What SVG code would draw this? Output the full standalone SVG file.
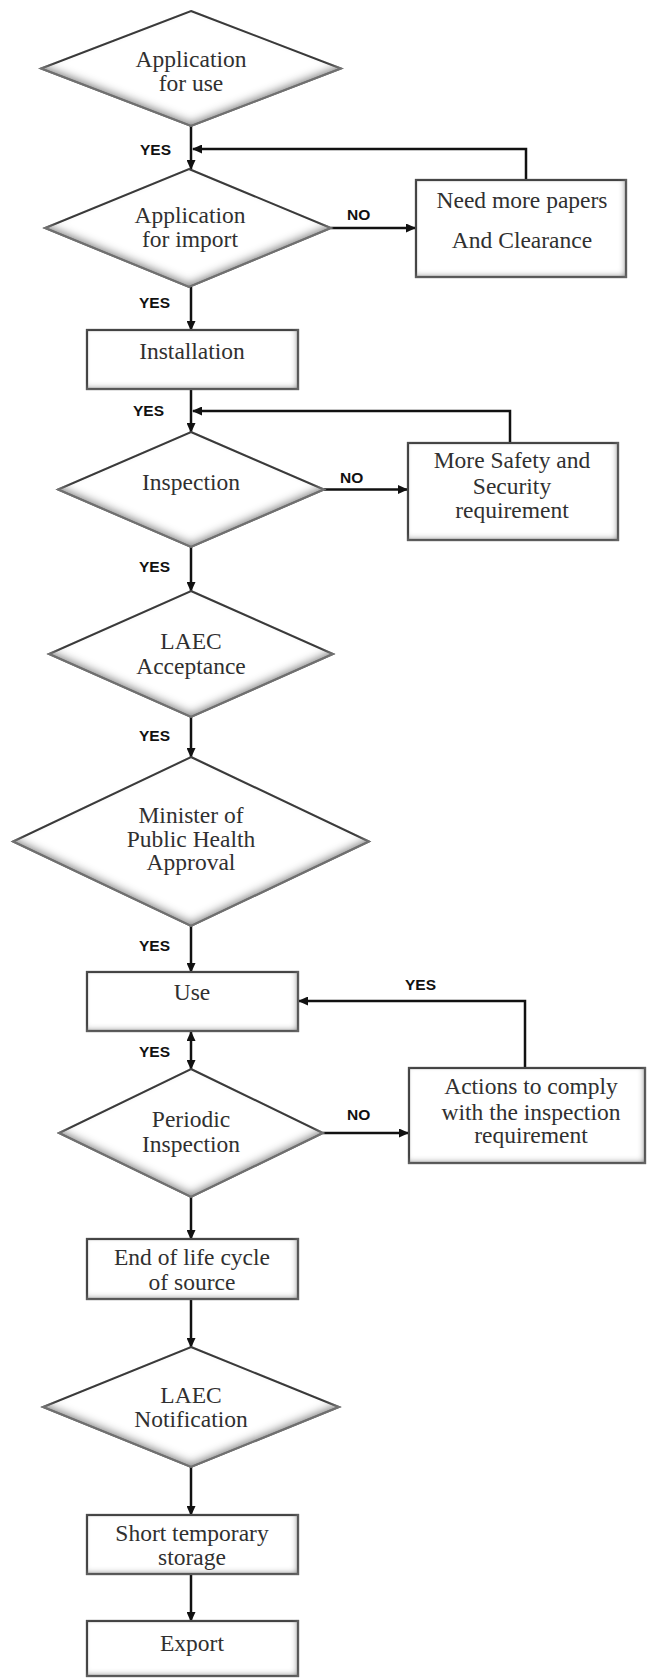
<svg xmlns="http://www.w3.org/2000/svg" width="647" height="1678" viewBox="0 0 647 1678">
<style>
.dia{stroke:#2e2e2e;stroke-width:2;fill:#ffffff;filter:url(#insetD)}
.box{stroke:#3a3a3a;stroke-width:2.2;fill:#ffffff;filter:url(#insetB)}
.t{font-family:"Liberation Serif","Times New Roman",serif;font-size:23.5px;fill:#303030;text-anchor:middle}
.lab{font-family:"Liberation Sans",Arial,sans-serif;font-size:15.5px;font-weight:bold;fill:#111}
.c{fill:none;stroke:#111;stroke-width:2.5}
</style>
<defs>
<filter id="insetD" x="-10%" y="-10%" width="120%" height="120%">
<feFlood flood-color="#7a7a7a" result="f"/>
<feComposite in="f" in2="SourceAlpha" operator="out" result="inv"/>
<feGaussianBlur in="inv" stdDeviation="4" result="b"/>
<feOffset in="b" dx="0" dy="-5" result="o"/>
<feComposite in="o" in2="SourceAlpha" operator="in" result="sh"/>
<feMerge><feMergeNode in="SourceGraphic"/><feMergeNode in="sh"/></feMerge>
</filter>
<filter id="insetB" x="-10%" y="-20%" width="120%" height="140%">
<feFlood flood-color="#6a6a6a" result="f"/>
<feComposite in="f" in2="SourceAlpha" operator="out" result="inv"/>
<feGaussianBlur in="inv" stdDeviation="3" result="b"/>
<feOffset in="b" dx="-2" dy="-2.5" result="o"/>
<feComposite in="o" in2="SourceAlpha" operator="in" result="sh"/>
<feMerge><feMergeNode in="SourceGraphic"/><feMergeNode in="sh"/></feMerge>
</filter>
<marker id="ah" markerWidth="10" markerHeight="9" refX="9" refY="4.5" orient="auto" markerUnits="userSpaceOnUse">
<path d="M0,0 L10,4.5 L0,9 Z" fill="#111"/>
</marker>
<marker id="ahs" markerWidth="10" markerHeight="9" refX="9" refY="4.5" orient="auto-start-reverse" markerUnits="userSpaceOnUse">
<path d="M0,0 L10,4.5 L0,9 Z" fill="#111"/>
</marker>
</defs>

<g id="connectors">
<line class="c" x1="191" y1="126" x2="191" y2="169" marker-end="url(#ah)"/>
<polyline class="c" points="526,180 526,149 193,149" marker-end="url(#ah)"/>
<line class="c" x1="331" y1="228" x2="415" y2="228" marker-end="url(#ah)"/>
<line class="c" x1="191" y1="287" x2="191" y2="330" marker-end="url(#ah)"/>
<line class="c" x1="191" y1="389" x2="191" y2="432" marker-end="url(#ah)"/>
<polyline class="c" points="510,443 510,411 193,411" marker-end="url(#ah)"/>
<line class="c" x1="324" y1="489.5" x2="407" y2="489.5" marker-end="url(#ah)"/>
<line class="c" x1="191" y1="547" x2="191" y2="591" marker-end="url(#ah)"/>
<line class="c" x1="191" y1="717" x2="191" y2="757" marker-end="url(#ah)"/>
<line class="c" x1="191" y1="926" x2="191" y2="972" marker-end="url(#ah)"/>
<polyline class="c" points="525,1068 525,1001 299,1001" marker-end="url(#ah)"/>
<line class="c" x1="191" y1="1032" x2="191" y2="1069" marker-start="url(#ahs)" marker-end="url(#ah)"/>
<line class="c" x1="323" y1="1133" x2="408" y2="1133" marker-end="url(#ah)"/>
<line class="c" x1="191" y1="1197" x2="191" y2="1239" marker-end="url(#ah)"/>
<line class="c" x1="191" y1="1299" x2="191" y2="1347" marker-end="url(#ah)"/>
<line class="c" x1="191" y1="1467" x2="191" y2="1515" marker-end="url(#ah)"/>
<line class="c" x1="191" y1="1574" x2="191" y2="1621" marker-end="url(#ah)"/>
<text class="lab" x="140" y="155">YES</text>
<text class="lab" x="347" y="220">NO</text>
<text class="lab" x="139" y="308">YES</text>
<text class="lab" x="133" y="416">YES</text>
<text class="lab" x="340" y="483">NO</text>
<text class="lab" x="139" y="572">YES</text>
<text class="lab" x="139" y="741">YES</text>
<text class="lab" x="139" y="951">YES</text>
<text class="lab" x="405" y="990">YES</text>
<text class="lab" x="139" y="1057">YES</text>
<text class="lab" x="347" y="1120">NO</text>
</g>

<g id="app-use">
<polygon class="dia" points="191,11 341,68.5 191,126 41,68.5"/>
<text class="t" x="191" y="67">Application</text>
<text class="t" x="191" y="91">for use</text>
</g>

<g id="app-import">
<polygon class="dia" points="189,169 331,228 189,287 45,228"/>
<text class="t" x="190" y="223">Application</text>
<text class="t" x="190" y="247">for import</text>
</g>

<g id="need-papers">
<rect class="box" x="416" y="180" width="210" height="97"/>
<text class="t" x="522" y="208">Need more papers</text>
<text class="t" x="522" y="248">And Clearance</text>
</g>

<g id="installation">
<rect class="box" x="87" y="330" width="211" height="59"/>
<text class="t" x="192" y="359">Installation</text>
</g>

<g id="inspection">
<polygon class="dia" points="191,432 324,489.5 191,547 58,489.5"/>
<text class="t" x="191" y="490">Inspection</text>
</g>

<g id="more-safety">
<rect class="box" x="408" y="443" width="210" height="97"/>
<text class="t" x="512" y="468">More Safety and</text>
<text class="t" x="512" y="494">Security</text>
<text class="t" x="512" y="518">requirement</text>
</g>

<g id="laec-acceptance">
<polygon class="dia" points="191,591 333,654 191,717 49,654"/>
<text class="t" x="191" y="649">LAEC</text>
<text class="t" x="191" y="674">Acceptance</text>
</g>

<g id="minister">
<polygon class="dia" points="191,757 369,841.5 191,926 13,841.5"/>
<text class="t" x="191" y="823">Minister of</text>
<text class="t" x="191" y="847">Public Health</text>
<text class="t" x="191" y="870">Approval</text>
</g>

<g id="use">
<rect class="box" x="87" y="972" width="211" height="59"/>
<text class="t" x="192" y="1000">Use</text>
</g>

<g id="actions">
<rect class="box" x="409" y="1068" width="236" height="95"/>
<text class="t" x="531" y="1094">Actions to comply</text>
<text class="t" x="531" y="1120">with the inspection</text>
<text class="t" x="531" y="1143">requirement</text>
</g>

<g id="periodic">
<polygon class="dia" points="191,1069 323,1133 191,1197 59,1133"/>
<text class="t" x="191" y="1127">Periodic</text>
<text class="t" x="191" y="1152">Inspection</text>
</g>

<g id="end-of-life">
<rect class="box" x="87" y="1239" width="211" height="60"/>
<text class="t" x="192" y="1265">End of life cycle</text>
<text class="t" x="192" y="1290">of source</text>
</g>

<g id="laec-notification">
<polygon class="dia" points="191,1347 339,1407 191,1467 43,1407"/>
<text class="t" x="191" y="1403">LAEC</text>
<text class="t" x="191" y="1427">Notification</text>
</g>

<g id="short-storage">
<rect class="box" x="87" y="1515" width="211" height="59"/>
<text class="t" x="192" y="1541">Short temporary</text>
<text class="t" x="192" y="1565">storage</text>
</g>

<g id="export">
<rect class="box" x="87" y="1621" width="211" height="55"/>
<text class="t" x="192" y="1651">Export</text>
</g>
</svg>
